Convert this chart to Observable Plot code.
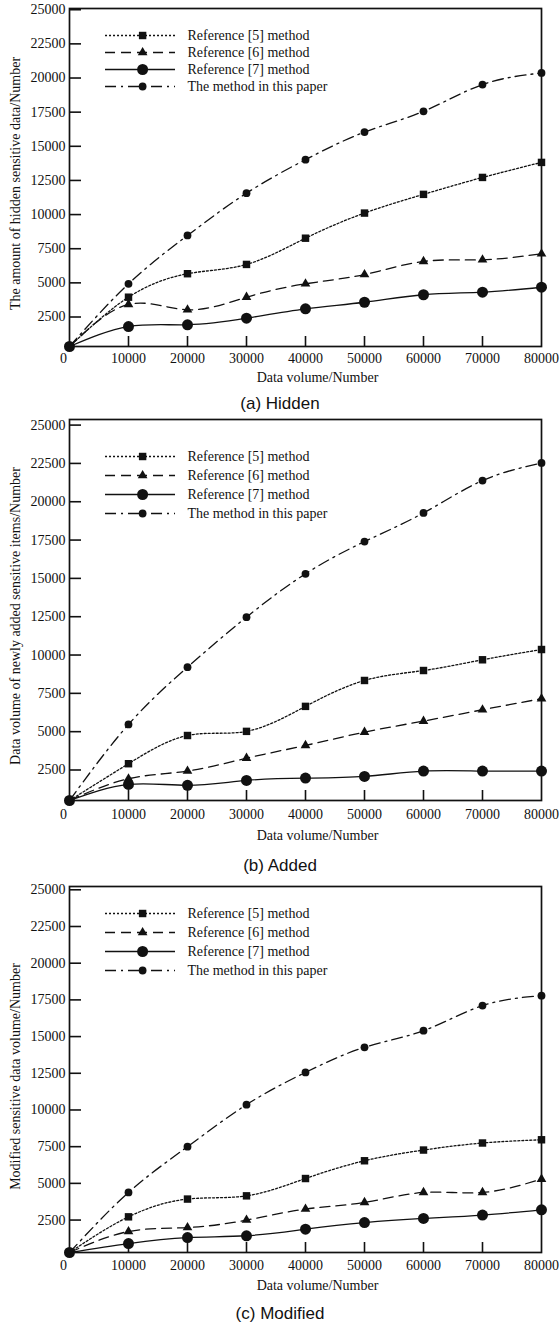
<!DOCTYPE html>
<html>
<head>
<meta charset="utf-8">
<script src="https://cdn.jsdelivr.net/npm/d3@7"></script>
<script src="https://cdn.jsdelivr.net/npm/@observablehq/plot@0.6"></script>
<style>
  body { margin: 0; background: #fff; width: 560px; }
  .panel { position: relative; width: 560px; }
  .panel svg { display: block; }
  .legend { position: absolute; }
  .cap { font-family: "Liberation Sans", Arial, sans-serif; font-size: 17px; text-align: center;
         height: 28px; line-height: 28px; color: #111; }
</style>
</head>
<body>
<div id="root"></div>
<script>
// ---------- data ----------
const xValues = [0, 10000, 20000, 30000, 40000, 50000, 60000, 70000, 80000];
const seriesNames = ["Reference [5] method", "Reference [6] method", "Reference [7] method", "The method in this paper"];
const xTicks = [0, 10000, 20000, 30000, 40000, 50000, 60000, 70000, 80000];
const yTicks = [2500, 5000, 7500, 10000, 12500, 15000, 17500, 20000, 22500, 25000];
const xTitle = "Data volume/Number";
const yTitles = [
  "The amount of hidden sensitive data/Number",
  "Data volume of newly added sensitive items/Number",
  "Modified sensitive data volume/Number"
];
const captions = ["(a) Hidden", "(b) Added", "(c) Modified"];

const hiddenRef5 = [340, 3950, 5670, 6350, 8270, 10110, 11480, 12720, 13820];
const hiddenRef6 = [340, 3420, 3030, 3950, 4930, 5610, 6570, 6690, 7130];
const hiddenRef7 = [340, 1800, 1930, 2410, 3100, 3580, 4130, 4320, 4680];
const hiddenOurs = [340, 4930, 8470, 11570, 14020, 16040, 17560, 19520, 20370];

const addedRef5 = [510, 2910, 4750, 5020, 6650, 8340, 8990, 9690, 10360];
const addedRef6 = [510, 1930, 2430, 3270, 4100, 4970, 5690, 6430, 7150];
const addedRef7 = [510, 1560, 1500, 1820, 1970, 2080, 2430, 2430, 2430];
const addedOurs = [510, 5470, 9210, 12470, 15300, 17400, 19270, 21380, 22530];

const modifiedRef5 = [290, 2720, 3930, 4150, 5330, 6540, 7270, 7750, 7970];
const modifiedRef6 = [290, 1720, 1990, 2500, 3250, 3700, 4380, 4380, 5290];
const modifiedRef7 = [290, 900, 1310, 1430, 1880, 2330, 2610, 2840, 3200];
const modifiedOurs = [290, 4380, 7500, 10360, 12560, 14270, 15400, 17110, 17790];

// ---------- styles ----------
const INK = "#111";
const FONT = '"Liberation Serif", "Times New Roman", serif';
const styles = [
  {dash: "2,2", symbol: "square", r: 4.2},
  {dash: "10,6", symbol: "triangle", r: 3.6},
  {dash: null, symbol: "circle", r: 5.5},
  {dash: "11,5,2,5", symbol: "circle", r: 3.9}
];

const panels = [
  {top: 0, height: 390, marginTop: 8, marginBottom: 44, yDomain: [340, 25090],
   series: [hiddenRef5, hiddenRef6, hiddenRef7, hiddenOurs], yTitle: yTitles[0], caption: captions[0],
   xLabelPad: 7, xTitleDy: 31, yTitleDy: 6, legendTop: 34.3, legendStep: 17.9},
  {top: 418, height: 434, marginTop: 1, marginBottom: 52, yDomain: [510, 25365],
   series: [addedRef5, addedRef6, addedRef7, addedOurs], yTitle: yTitles[1], caption: captions[1],
   xLabelPad: 9, xTitleDy: 35, yTitleDy: 6, legendTop: 455, legendStep: 19.4},
  {top: 880, height: 420, marginTop: 6, marginBottom: 48, yDomain: [290, 25225],
   series: [modifiedRef5, modifiedRef6, modifiedRef7, modifiedOurs], yTitle: yTitles[2], caption: captions[2],
   xLabelPad: 8, xTitleDy: 33, yTitleDy: 7, legendTop: 913.3, legendStep: 19.2}
];

const W = 560, ML = 69, MR = 19;

function makePanel(p) {
  const frameW = W - ML - MR;
  const frameH = p.height - p.marginTop - p.marginBottom;
  const marks = [];
  seriesNames.forEach((name, k) => {
    const d = xValues.map((x, i) => ({x, y: p.series[k][i], name}));
    marks.push(Plot.line(d, {x: "x", y: "y", curve: "natural", stroke: INK, strokeWidth: 1.3,
      strokeDasharray: styles[k].dash}));
    marks.push(Plot.dot(d, {x: "x", y: "y", symbol: styles[k].symbol, r: styles[k].r, fill: INK, stroke: "none"}));
  });
  marks.push(
    Plot.tickY(yTicks, {y: d => d, insetRight: frameW - 12, stroke: INK, strokeWidth: 1.6}),
    Plot.tickX(xTicks.filter(v => v > 0 && v < 80000), {x: d => d, insetTop: frameH - 10, stroke: INK, strokeWidth: 1.6}),
    Plot.frame({stroke: INK, strokeWidth: 1.7}),
    Plot.axisY(yTicks, {tickSize: 0, tickPadding: 4, tickFormat: d => String(d), label: null, fill: INK}),
    Plot.axisX(xTicks.filter(v => v > 0), {tickSize: 0, tickPadding: p.xLabelPad, tickFormat: d => String(d), label: null, fill: INK}),
    Plot.axisX([0], {tickSize: 0, tickPadding: p.xLabelPad, dx: -6, tickFormat: d => String(d), label: null, fill: INK}),
    Plot.text([xTitle], {frameAnchor: "bottom", dy: p.xTitleDy, dx: 12, lineAnchor: "middle", textAnchor: "middle", text: d => d, fill: INK}),
    Plot.text([p.yTitle], {frameAnchor: "left", rotate: -90, dx: -54, dy: p.yTitleDy, lineAnchor: "middle", textAnchor: "middle", text: d => d, fill: INK})
  );
  return Plot.plot({
    width: W, height: p.height,
    marginLeft: ML, marginRight: MR, marginTop: p.marginTop, marginBottom: p.marginBottom,
    x: {domain: [0, 80000]},
    y: {domain: p.yDomain},
    style: {fontFamily: FONT, fontSize: "14px", color: INK, background: "#fff", overflow: "visible"},
    marks
  });
}

function makeLegend(p) {
  const step = p.legendStep;
  const marks = [];
  seriesNames.forEach((name, k) => {
    marks.push(Plot.ruleY([name], {y: d => d, x1: () => 0, x2: () => 1, stroke: INK, strokeWidth: 1.3,
      strokeDasharray: styles[k].dash}));
    marks.push(Plot.dot([name], {x: () => 0.53, y: d => d, symbol: styles[k].symbol, r: styles[k].r, fill: INK, stroke: "none"}));
  });
  marks.push(Plot.text(seriesNames, {x: () => 1, y: d => d, dx: 12, textAnchor: "start", lineAnchor: "middle",
    text: d => d, fill: INK}));
  return Plot.plot({
    width: 270, height: 3 * step + 20, margin: 0,
    x: {domain: [0, 1], range: [5, 75], axis: null},
    y: {type: "point", domain: seriesNames, range: [10, 10 + 3 * step], padding: 0, axis: null},
    style: {fontFamily: FONT, fontSize: "14px", color: INK, background: "transparent", overflow: "visible"},
    marks
  });
}

const root = document.getElementById("root");
panels.forEach(p => {
  const wrap = document.createElement("div");
  wrap.className = "panel";
  wrap.appendChild(makePanel(p));
  const lg = document.createElement("div");
  lg.className = "legend";
  lg.style.left = "100px";
  lg.style.top = (p.legendTop - 10 - p.top) + "px";
  lg.appendChild(makeLegend(p));
  wrap.appendChild(lg);
  root.appendChild(wrap);
  const cap = document.createElement("div");
  cap.className = "cap";
  cap.textContent = p.caption;
  root.appendChild(cap);
});
</script>
</body>
</html>
